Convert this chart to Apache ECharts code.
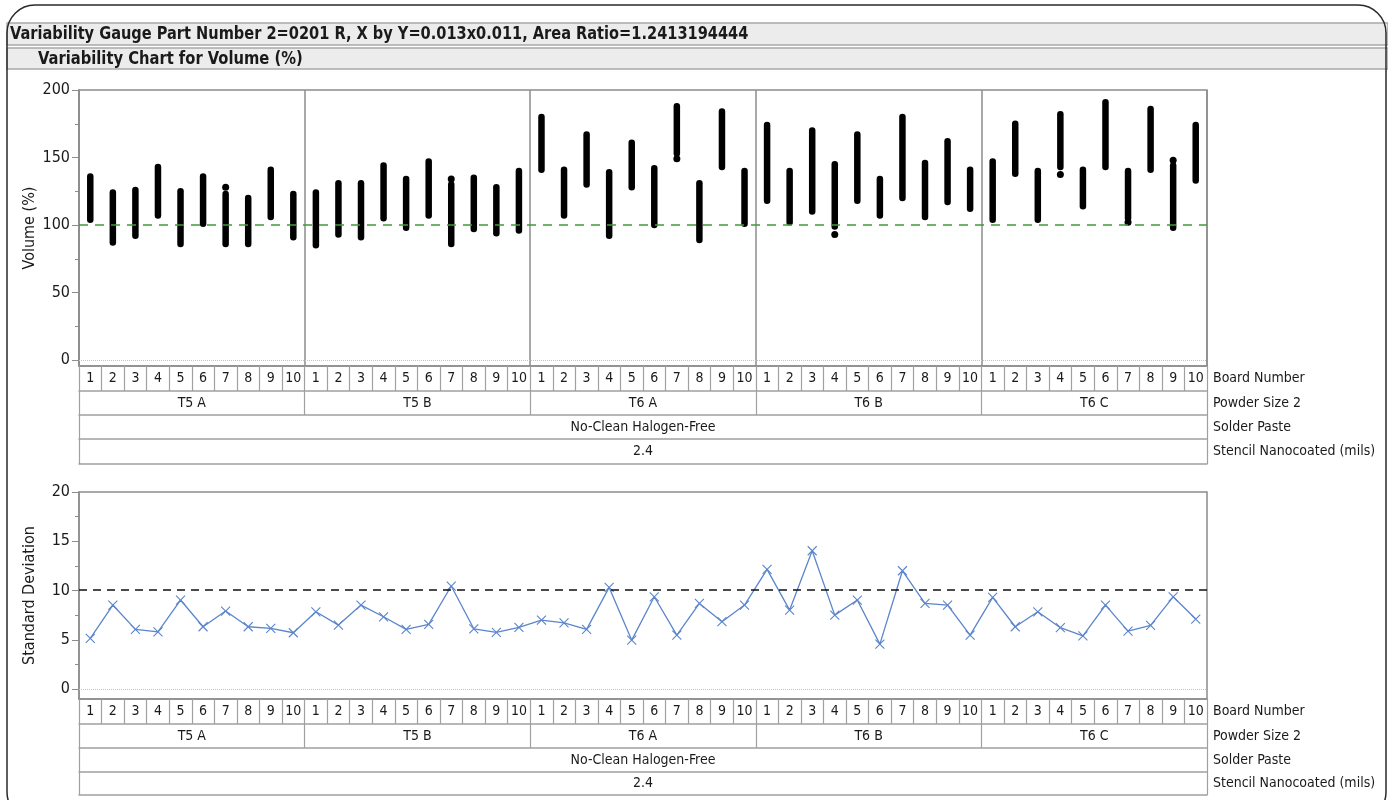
<!DOCTYPE html>
<html>
<head>
<meta charset="utf-8">
<title>Variability Chart for Volume (%)</title>
<script src="https://cdn.jsdelivr.net/npm/echarts@6/dist/echarts.min.js"></script>
<style>
  html, body { margin: 0; padding: 0; background: #fff; }
  #chart { width: 1388px; height: 800px; }
</style>
</head>
<body>
<div id="chart"></div>
<script>
// ---- data ----------------------------------------------------------------
const boards = ['1', '2', '3', '4', '5', '6', '7', '8', '9', '10'];
const powderSizes = ['T5 A', 'T5 B', 'T6 A', 'T6 B', 'T6 C'];
const solderPaste = ['No-Clean Halogen-Free'];
const stencil = ['2.4'];

// Volume (%) range of the measurements on each board (low / high), 10 boards per powder size
const volumeLow = [
  104, 87, 92, 107, 86, 101, 86, 86, 106, 91,
  85, 93, 91, 105, 98, 107, 86, 97, 94, 96,
  141, 107, 130, 92, 128, 100, 153, 89, 143, 101,
  118, 102, 110, 99, 118, 107, 120, 106, 117, 112,
  104, 138, 104, 143, 114, 143, 105, 141, 98, 133
];
const volumeHigh = [
  136, 124, 126, 143, 125, 136, 123, 120, 141, 123,
  124, 131, 131, 144, 134, 147, 130, 135, 128, 140,
  180, 141, 167, 139, 161, 142, 188, 131, 184, 140,
  174, 140, 170, 145, 167, 134, 180, 146, 162, 141,
  147, 175, 140, 182, 141, 191, 140, 186, 144, 174
];
// detached single measurements: [powder size, board, volume]
const volumeIsolated = [
  ['T5 A', '7', 128],
  ['T5 B', '7', 134],
  ['T6 A', '7', 149],
  ['T6 B', '4', 93],
  ['T6 C', '4', 137.5],
  ['T6 C', '7', 102],
  ['T6 C', '9', 148]
];
// standard deviation of volume per board
const stdDev = [
  5.14, 8.53, 6.06, 5.82, 9.04, 6.33, 7.92, 6.33, 6.16, 5.72,
  7.85, 6.50, 8.53, 7.34, 6.06, 6.57, 10.46, 6.12, 5.75, 6.26,
  7.00, 6.73, 6.06, 10.32, 4.97, 9.37, 5.48, 8.70, 6.84, 8.53,
  12.15, 8.02, 14.04, 7.51, 9.04, 4.57, 12.01, 8.70, 8.53, 5.48,
  9.31, 6.33, 7.85, 6.23, 5.41, 8.53, 5.89, 6.46, 9.37, 7.11
];
const volumeTarget = 100;
const stdDevLimit = 10.05;
const volumeTicks = [0, 50, 100, 150, 200];
const volumeMinorTicks = [25, 75, 125, 175];
const stdTicks = [0, 5, 10, 15, 20];
const stdMinorTicks = [2.5, 7.5, 12.5, 17.5];

// ---- helpers --------------------------------------------------------------
const FONT = "'Liberation Sans Narrow', 'DejaVu Sans Condensed', 'Roboto Condensed', sans-serif";
const TXT = '#1a1a1a';
const FRAME = '#8c8c8c';
const CELL = '#a0a0a0';

const boardCats = [];
powderSizes.forEach(() => boards.forEach(b => boardCats.push(b)));
const catIndex = (p, b) => powderSizes.indexOf(p) * boards.length + boards.indexOf(b);

const rangeData = volumeLow.map((lo, i) => [i, lo, volumeHigh[i]]);
const isolatedData = volumeIsolated.map(([p, b, v]) => [catIndex(p, b), v]);
const stdData = stdDev.map((v, i) => [i, v]);

// stacked category table under each plot: board / powder size / paste / stencil
function tableAxes(gi, rows, withGroupLines) {
  const [h1, h2, h3, h4] = rows;
  const base = {
    gridIndex: gi, type: 'category', position: 'bottom', boundaryGap: true,
    axisLine: { show: true, onZero: false, lineStyle: { color: CELL, width: 1.5 } },
    axisLabel: { interval: 0, color: TXT, fontFamily: FONT, fontSize: 14 },
    nameLocation: 'end', nameGap: 6, nameMoveOverlap: false
  };
  const mk = (data, offset, h, name, extra) => Object.assign({}, base, {
    data, offset, name,
    axisTick: { show: true, interval: 0, length: h, lineStyle: { color: CELL, width: 1.2 } },
    axisLabel: Object.assign({}, base.axisLabel, { margin: h / 2 - 7 }),
    nameTextStyle: {
      color: TXT, fontFamily: FONT, fontSize: 14, align: 'left',
      verticalAlign: 'top', lineHeight: h, height: h
    }
  }, extra || {});
  return [
    mk(boardCats, 0, h1, 'Board Number', {
      axisLine: { show: true, onZero: false, lineStyle: { color: FRAME, width: 1.5 } }
    }),
    mk(powderSizes, h1, h2, 'Powder Size 2', {
      splitLine: { show: withGroupLines, interval: 0, lineStyle: { color: FRAME, width: 1.5 } }
    }),
    mk(solderPaste, h1 + h2, h3, 'Solder Paste'),
    mk(stencil, h1 + h2 + h3, h4, 'Stencil Nanocoated (mils)'),
    Object.assign({}, base, {
      data: [''], offset: h1 + h2 + h3 + h4, name: '',
      axisTick: { show: false }, axisLabel: { show: false }
    })
  ];
}

function valueAxes(gi, min, max, majors, minors, name) {
  return [
    {
      gridIndex: gi, type: 'value', min, max, position: 'left',
      name, nameLocation: 'middle', nameGap: 41, nameMoveOverlap: false,
      nameTextStyle: { color: TXT, fontFamily: FONT, fontSize: 16 },
      axisLine: { show: true, onZero: false, lineStyle: { color: FRAME, width: 1.5 } },
      axisTick: { show: true, customValues: majors, length: 7, lineStyle: { color: FRAME } },
      axisLabel: { customValues: majors, color: TXT, fontFamily: FONT, fontSize: 16, margin: 9 },
      splitLine: { show: false }
    },
    {
      gridIndex: gi, type: 'value', min, max, position: 'left',
      axisLine: { show: false, onZero: false },
      axisTick: { show: true, customValues: minors, length: 4, lineStyle: { color: FRAME } },
      axisLabel: { show: false },
      splitLine: { show: false }
    }
  ];
}

const topX = tableAxes(0, [25, 24, 24, 25], true);
const botX = tableAxes(1, [25, 24, 24, 23], false);

const titleFont = "bold 18px " + FONT;

const chart = echarts.init(document.getElementById('chart'), null, { renderer: 'canvas' });
chart.setOption({
  backgroundColor: '#fff',
  animation: false,
  textStyle: { fontFamily: FONT },
  graphic: [
    { type: 'rect', z: -10, shape: { x: 7, y: 23, width: 1381, height: 22 },
      style: { fill: '#ececec', stroke: '#a8a8a8', lineWidth: 1.5 } },
    { type: 'rect', z: -10, shape: { x: 7, y: 48, width: 1381, height: 21 },
      style: { fill: '#ececec', stroke: '#a8a8a8', lineWidth: 1.5 } },
    { type: 'text', x: 10, y: 34, scaleX: 0.9, z: 10,
      style: { text: 'Variability Gauge Part Number 2=0201 R, X by Y=0.013x0.011, Area Ratio=1.2413194444',
               font: titleFont, fill: TXT, verticalAlign: 'middle', align: 'left' } },
    { type: 'text', x: 38, y: 59, scaleX: 0.91, z: 10,
      style: { text: 'Variability Chart for Volume (%)',
               font: titleFont, fill: TXT, verticalAlign: 'middle', align: 'left' } },
    { type: 'rect', z: 100, shape: { x: 7, y: 5, width: 1379, height: 815, r: 28 },
      style: { fill: 'none', stroke: '#2a2a2a', lineWidth: 1.5 } }
  ],
  grid: [
    { left: 79, right: 181, top: 90, height: 276, show: true, borderColor: FRAME, borderWidth: 1.5, containLabel: false },
    { left: 79, right: 181, top: 492, height: 207, show: true, borderColor: FRAME, borderWidth: 1.5, containLabel: false }
  ],
  xAxis: topX.concat(botX),
  yAxis: valueAxes(0, -4.4, 200, volumeTicks, volumeMinorTicks, 'Volume (%)')
    .concat(valueAxes(1, -1, 20, stdTicks, stdMinorTicks, 'Standard Deviation')),
  series: [
    {
      type: 'custom', name: 'Volume (%)', xAxisIndex: 0, yAxisIndex: 0,
      data: rangeData,
      encode: { x: 0, y: [1, 2] },
      renderItem: function (params, api) {
        const p1 = api.coord([api.value(0), api.value(1)]);
        const p2 = api.coord([api.value(0), api.value(2)]);
        return {
          type: 'line',
          shape: { x1: p1[0], y1: p1[1], x2: p2[0], y2: p2[1] },
          style: { stroke: '#000', lineWidth: 6.5, lineCap: 'round' }
        };
      },
      markLine: {
        silent: true, symbol: 'none', label: { show: false },
        data: [
          { yAxis: volumeTarget, lineStyle: { color: '#3d9a3d', type: [9, 7], width: 1.5 } },
          { yAxis: 0, lineStyle: { color: '#c4c4c4', type: 'dotted', width: 1 } }
        ]
      }
    },
    {
      type: 'scatter', xAxisIndex: 0, yAxisIndex: 0,
      data: isolatedData, symbol: 'circle', symbolSize: 7,
      itemStyle: { color: '#000', opacity: 1 }
    },
    {
      type: 'line', name: 'Standard Deviation', xAxisIndex: 5, yAxisIndex: 2,
      data: stdData,
      symbol: 'path://M0,0L10,10M10,0L0,10', symbolSize: 9,
      lineStyle: { color: '#5b85cc', width: 1.3 },
      itemStyle: { color: 'rgba(0,0,0,0)', borderColor: '#5b85cc', borderWidth: 1.1 },
      markLine: {
        silent: true, symbol: 'none', label: { show: false },
        data: [
          { yAxis: stdDevLimit, lineStyle: { color: '#111', type: [8, 6], width: 1.5 } },
          { yAxis: 0, lineStyle: { color: '#c4c4c4', type: 'dotted', width: 1 } }
        ]
      }
    }
  ]
});
</script>
</body>
</html>
